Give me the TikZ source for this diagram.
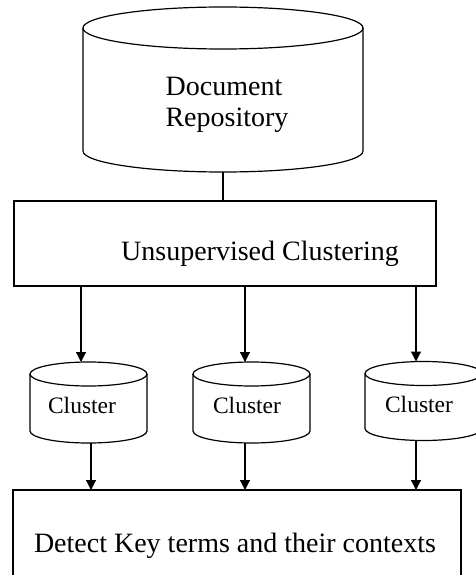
\documentclass[tikz,border=0pt]{standalone}
\usepackage{fontspec}
\setmainfont{Liberation Serif}
\usetikzlibrary{arrows.meta,calc}
\tikzset{
  frame/.style={inner sep=0pt, outer sep=0pt},
  boxnode/.style={draw, line width=1.2pt, inner sep=0pt, outer sep=0pt},
  bigtext/.style={font=\fontsize{28}{31}\selectfont, inner sep=0pt, anchor=base},
  smalltext/.style={font=\fontsize{23.5}{26}\selectfont, inner sep=0pt, anchor=base},
  arr/.style={line width=1.2pt, -{Triangle[width=10pt,length=10pt]}},
  plain/.style={line width=1.2pt},
}
\newcommand\cylframe[3]{%
  \draw[plain] ([yshift=-#2]#1.north) ellipse [x radius=#3, y radius=#2];
  \draw[plain] ([yshift=-#2]#1.north west) -- ([yshift=#2]#1.south west)
    arc[start angle=180, end angle=360, x radius=#3, y radius=#2]
    -- ([yshift=-#2]#1.north east);
}
\begin{document}
\begin{tikzpicture}[x=1pt,y=-1pt]
\useasboundingbox (0,0) rectangle (476,575);
\clip (0,0) rectangle (476,575);
\fill[white] (0,0) rectangle (476,575);

% repository cylinder
\node[frame, minimum width=280pt, minimum height=165pt] (repo) at (223,89.5) {};
\cylframe{repo}{21pt}{140pt}
\node[bigtext] (repoA) at (224,96) {Document};
\node[bigtext] (repoB) at (227,127) {Repository};

% clustering box
\node[boxnode, minimum width=422pt, minimum height=85pt] (uc) at (225,243.5) {};
\node[bigtext] (uctext) at (260,260) {Unsupervised Clustering};

% clusters
\node[frame, minimum width=117pt, minimum height=81pt] (c1) at (88.5,402.5) {};
\node[frame, minimum width=117pt, minimum height=81pt] (c2) at (251.5,402.5) {};
\node[frame, minimum width=117pt, minimum height=79pt] (c3) at (423.5,401) {};
\cylframe{c1}{12pt}{58.5pt}
\cylframe{c2}{12pt}{58.5pt}
\cylframe{c3}{12pt}{58.5pt}
\node[smalltext] (c1t) at (82,413) {Cluster};
\node[smalltext] (c2t) at (247,413) {Cluster};
\node[smalltext] (c3t) at (419,412) {Cluster};

% detect box
\node[boxnode, minimum width=448pt, minimum height=110pt] (det) at (237,545) {};
\node[bigtext] (dettext) at (235,552) {Detect Key terms and their contexts};

% connectors
\draw[plain] (repo.south) -- (uc.north -| repo.south);
\draw[arr] ([xshift=-7.5pt]c1.north |- uc.south) -- ([xshift=-7.5pt]c1.north);
\draw[arr] ([xshift=-6.5pt]c2.north |- uc.south) -- ([xshift=-6.5pt]c2.north);
\draw[arr] ([xshift=-7.5pt]c3.north |- uc.south) -- ([xshift=-7.5pt]c3.north);
\draw[arr] ([xshift=2.5pt]c1.south) -- ([xshift=2.5pt]c1.south |- det.north);
\draw[arr] ([xshift=-6.5pt]c2.south) -- ([xshift=-6.5pt]c2.south |- det.north);
\draw[arr] ([xshift=-7.5pt]c3.south) -- ([xshift=-7.5pt]c3.south |- det.north);
\end{tikzpicture}
\end{document}
